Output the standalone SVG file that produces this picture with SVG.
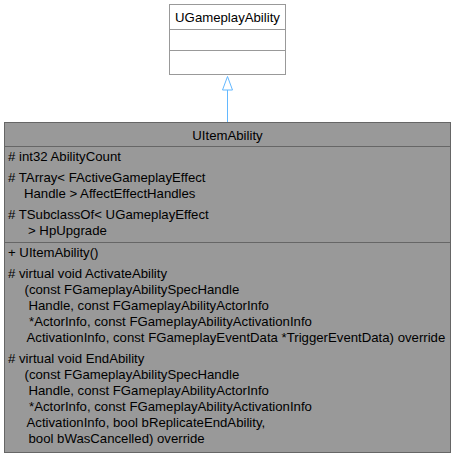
<svg xmlns="http://www.w3.org/2000/svg" width="456" height="459" viewBox="0 0 456 459">
<style>
text{font-family:"Liberation Sans",Arial,sans-serif;font-size:13.2px;fill:#000}
.c{text-anchor:middle}
.base{fill:#fff;stroke:#999;stroke-width:1}
.main{fill:#999;stroke:#666;stroke-width:1}
.sepb{stroke:#999;stroke-width:1}
.sepm{stroke:#666;stroke-width:1}
.edge{stroke:#63B8FF;stroke-width:1}
</style>
<rect width="456" height="459" fill="#fff"/>
<g id="connectors">
<line class="edge" x1="227.5" y1="90" x2="227.5" y2="122.5"/>
<polygon class="edge" points="227.5,76.5 222.5,90 232.5,90" fill="#fff"/>
</g>
<g id="UGameplayAbility">
<rect class="base" x="169.5" y="4.5" width="116" height="70"/>
<line class="sepb" x1="169.5" y1="29.5" x2="285.5" y2="29.5"/>
<line class="sepb" x1="169.5" y1="50.5" x2="285.5" y2="50.5"/>
<text class="c" x="227.5" y="22">UGameplayAbility</text>
</g>
<g id="UItemAbility">
<rect class="main" x="4.5" y="122.5" width="446" height="330"/>
<line class="sepm" x1="4.5" y1="146.5" x2="450.5" y2="146.5"/>
<line class="sepm" x1="4.5" y1="242.5" x2="450.5" y2="242.5"/>
<text class="c" x="227.5" y="140">UItemAbility</text>
<text x="8" y="161">#  int32 AbilityCount</text>
<text x="8" y="182">#  TArray&lt; FActiveGameplayEffect</text>
<text x="24" y="198">Handle &gt; AffectEffectHandles</text>
<text x="8" y="219">#  TSubclassOf&lt; UGameplayEffect</text>
<text x="28" y="235">&gt; HpUpgrade</text>
<text x="8" y="257">+  UItemAbility()</text>
<text x="8" y="278">#  virtual void ActivateAbility</text>
<text x="24.5" y="294">(const FGameplayAbilitySpecHandle</text>
<text x="28.5" y="310">Handle, const FGameplayAbilityActorInfo</text>
<text x="29" y="326">*ActorInfo, const FGameplayAbilityActivationInfo</text>
<text x="26.5" y="342">ActivationInfo, const FGameplayEventData *TriggerEventData) override</text>
<text x="8" y="363">#  virtual void EndAbility</text>
<text x="24.5" y="379">(const FGameplayAbilitySpecHandle</text>
<text x="28.5" y="395">Handle, const FGameplayAbilityActorInfo</text>
<text x="29" y="411">*ActorInfo, const FGameplayAbilityActivationInfo</text>
<text x="26.5" y="427">ActivationInfo, bool bReplicateEndAbility,</text>
<text x="28.5" y="443">bool bWasCancelled) override</text>
</g>
</svg>
